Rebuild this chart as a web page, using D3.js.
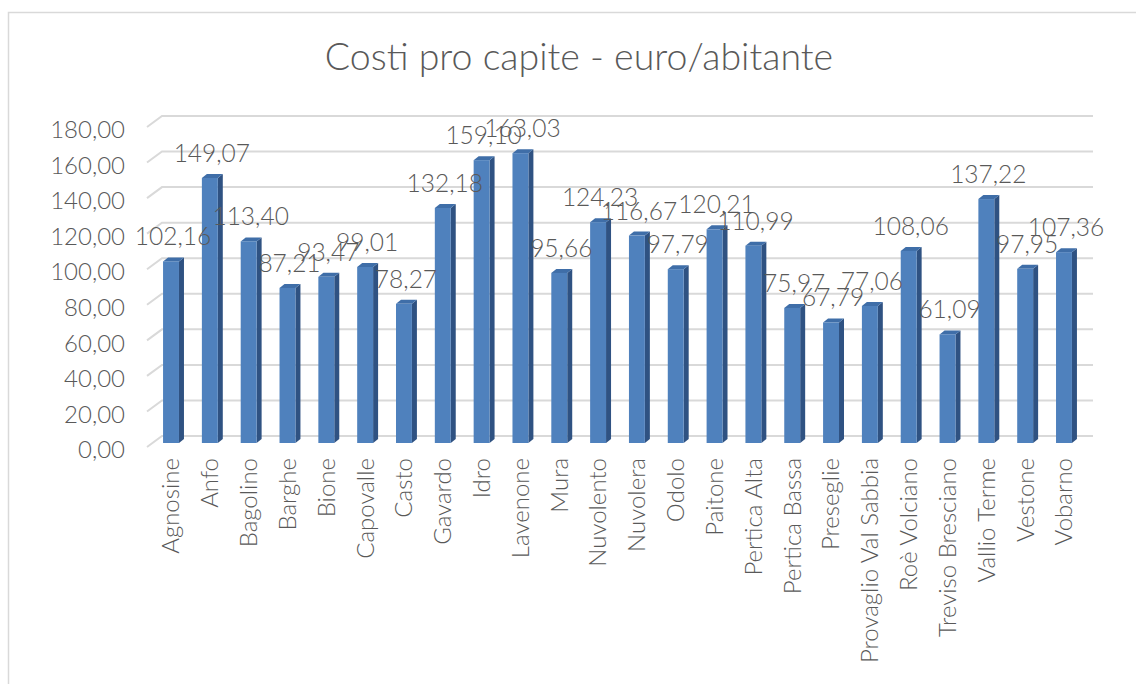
<!DOCTYPE html>
<html>
<head>
<meta charset="utf-8">
<script src="https://cdn.jsdelivr.net/npm/d3@7/dist/d3.min.js"></script>
<style>
  html, body { margin: 0; padding: 0; background: #fff; }
  svg text { font-family: Lato, "Open Sans", sans-serif; font-weight: 300; fill: #595959; }
</style>
</head>
<body>
<svg id="chart" width="1136" height="684"></svg>
<script>
const categories = ["Agnosine","Anfo","Bagolino","Barghe","Bione","Capovalle","Casto","Gavardo","Idro","Lavenone","Mura","Nuvolento","Nuvolera","Odolo","Paitone","Pertica Alta","Pertica Bassa","Preseglie","Provaglio Val Sabbia","Roè Volciano","Treviso Bresciano","Vallio Terme","Vestone","Vobarno"];
const values = [102.16,149.07,113.40,87.21,93.47,99.01,78.27,132.18,159.10,163.03,95.66,124.23,116.67,97.79,120.21,110.99,75.97,67.79,77.06,108.06,61.09,137.22,97.95,107.36];
const yTicks = [0,20,40,60,80,100,120,140,160,180];
const title = "Costi pro capite - euro/abitante";

const locale = d3.formatLocale({decimal: ",", thousands: ".", grouping: [3], currency: ["", "€"]});
const fmt = locale.format(".2f");

const svg = d3.select("#chart");

// chart border
svg.append("rect").attr("x", 8.5).attr("y", 12.5).attr("width", 1140).attr("height", 700)
  .attr("fill", "none").attr("stroke", "#d9d9d9").attr("stroke-width", 1.5);

const x = d3.scaleBand().domain(categories).range([151.6, 1083.4]).paddingInner(0.59).paddingOuter(0.295);
const y = d3.scaleLinear().domain([0, 180]).range([443, 123]);

// gridlines (3D back wall + floor slant)
const backDy = -7, frontDy = 4, backX0 = 162, backX1 = 1093, frontX = 147;
const grid = svg.append("g");
yTicks.forEach(t => {
  const yy = y(t);
  grid.append("path")
    .attr("d", `M${frontX},${yy + frontDy}L${backX0},${yy + backDy}L${backX1},${yy + backDy}`)
    .attr("fill", "none").attr("stroke", "#d9d9d9").attr("stroke-width", 2);
});

// y axis labels
const yAxis = svg.append("g").attr("transform", "translate(125,7)")
  .call(d3.axisLeft(y).tickValues(yTicks).tickFormat(fmt).tickSize(0).tickPadding(0));
yAxis.select(".domain").remove();
yAxis.selectAll("text").style("font-size", "24px").attr("fill", "#595959").style("font-family", "Lato, sans-serif");

// bars (3D)
const depthX = 5, depthY = 4;
const bw = x.bandwidth();
const bars = svg.append("g");
categories.forEach((c, i) => {
  const x0 = x(c), x1 = x0 + bw, y0 = y(0), yt = y(values[i]);
  bars.append("path").attr("d", `M${x1},${yt}L${x1 + depthX},${yt - depthY}L${x1 + depthX},${y0 - depthY}L${x1},${y0}Z`)
    .attr("fill", "#2f5282");
  bars.append("path").attr("d", `M${x0},${yt}L${x0 + depthX},${yt - depthY}L${x1 + depthX},${yt - depthY}L${x1},${yt}Z`)
    .attr("fill", "#3f6ea8");
  bars.append("rect").attr("x", x0).attr("y", yt).attr("width", bw).attr("height", y0 - yt)
    .attr("fill", "#4f81bd");
});

// data labels
svg.append("g").selectAll("text").data(values).join("text")
  .attr("x", (d, i) => x(categories[i]) + bw / 2 + 2)
  .attr("y", d => y(d) - 16)
  .attr("text-anchor", "middle")
  .style("font-size", "24.5px")
  .text(d => fmt(d));

// x axis labels
const xAxis = svg.append("g").attr("transform", "translate(0,458)")
  .call(d3.axisBottom(x).tickSize(0).tickPadding(0));
xAxis.select(".domain").remove();
xAxis.selectAll("text")
  .style("font-size", "24px").style("font-family", "Lato, sans-serif").attr("fill", "#595959")
  .attr("transform", "rotate(-90)")
  .attr("text-anchor", "end")
  .attr("x", 0).attr("y", 0).attr("dx", 0).attr("dy", "0.35em");

// title
svg.append("text").attr("x", 579).attr("y", 70).attr("text-anchor", "middle")
  .style("font-size", "37.5px").text(title);
</script>
</body>
</html>
